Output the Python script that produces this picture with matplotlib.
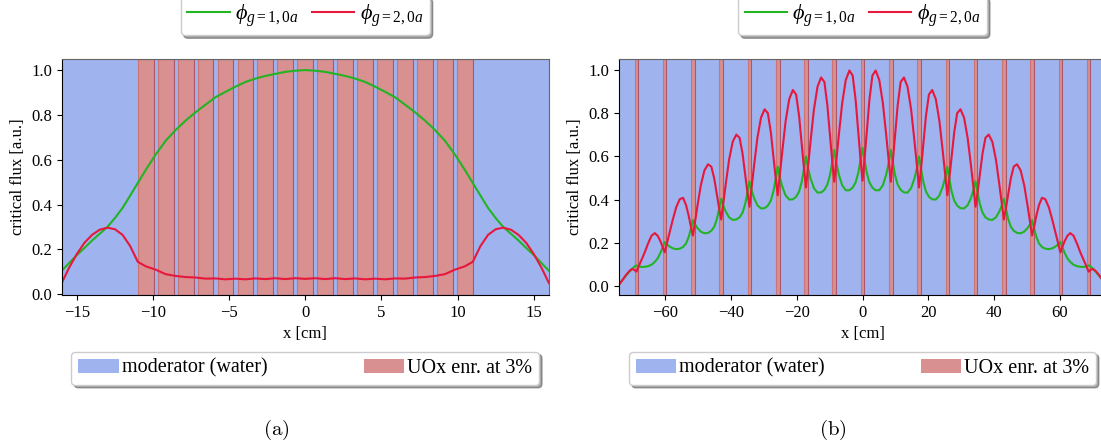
import numpy as np
import matplotlib.pyplot as plt
from matplotlib.patches import Patch
from matplotlib.lines import Line2D

plt.rcParams['font.family'] = ['Liberation Serif', 'DejaVu Serif']
plt.rcParams['mathtext.fontset'] = 'custom'
plt.rcParams['mathtext.rm'] = 'Liberation Serif'
plt.rcParams['mathtext.it'] = 'Liberation Serif:italic'

# --- (a) 17 pins, tight lattice ---
pins_a = [-10.48, -9.17, -7.86, -6.55, -5.24, -3.93, -2.62, -1.31, 0.0,
          1.31, 2.62, 3.93, 5.24, 6.55, 7.86, 9.17, 10.48]
half_w_a = 0.52
xlim_a = (-16, 16)

x_a = [-16.0, -15.5, -15.0, -14.5, -14.0, -13.5, -13.0, -12.5, -12.0, -11.5, -11.0,
       -10.48, -9.825, -9.17, -8.515, -7.86, -7.205, -6.55, -5.895, -5.24, -4.585,
       -3.93, -3.275, -2.62, -1.965, -1.31, -0.655, 0.0,
       0.655, 1.31, 1.965, 2.62, 3.275, 3.93, 4.585, 5.24, 5.895, 6.55, 7.205,
       7.86, 8.515, 9.17, 9.825, 10.48,
       11.0, 11.5, 12.0, 12.5, 13.0, 13.5, 14.0, 14.5, 15.0, 15.5, 16.0]
phi1_a = [0.105, 0.14, 0.175, 0.207, 0.24, 0.27, 0.30, 0.34, 0.385, 0.44, 0.496,
          0.554, 0.623, 0.684, 0.732, 0.774, 0.811, 0.845, 0.878, 0.902, 0.925,
          0.946, 0.961, 0.973, 0.982, 0.991, 0.996, 0.999,
          0.996, 0.991, 0.982, 0.973, 0.961, 0.946, 0.925, 0.902, 0.878, 0.845, 0.811,
          0.774, 0.732, 0.684, 0.623, 0.554,
          0.496, 0.44, 0.385, 0.34, 0.30, 0.27, 0.24, 0.207, 0.175, 0.14, 0.105]
phi2_a = [0.05, 0.12, 0.18, 0.23, 0.265, 0.288, 0.297, 0.29, 0.265, 0.215, 0.145,
          0.125, 0.11, 0.09, 0.082, 0.077, 0.075, 0.070, 0.071, 0.067, 0.070,
          0.067, 0.071, 0.068, 0.072, 0.068, 0.072, 0.069,
          0.072, 0.068, 0.072, 0.068, 0.071, 0.067, 0.070, 0.067, 0.071, 0.070, 0.075,
          0.077, 0.082, 0.09, 0.11, 0.125,
          0.145, 0.215, 0.265, 0.29, 0.297, 0.288, 0.265, 0.23, 0.18, 0.12, 0.05]

# --- (b) 17 pins, wide lattice ---
pins_b = [-68.8, -60.2, -51.6, -43.0, -34.4, -25.8, -17.2, -8.6, 0.0,
          8.6, 17.2, 25.8, 34.4, 43.0, 51.6, 60.2, 68.8]
half_w_b = 0.55
xlim_b = (-74, 74)

x_b = [-74.0, -73.0, -72.0, -71.0, -70.2, -69.5,
       -68.8, -68.2, -67.4, -66.4, -65.3, -64.2, -63.2, -62.3, -61.5, -60.8,
       -60.2, -59.6, -58.8, -57.8, -56.7, -55.6, -54.6, -53.7, -52.9, -52.2,
       -51.6, -51.0, -50.2, -49.2, -48.1, -47.0, -46.0, -45.1, -44.3, -43.6,
       -43.0, -42.4, -41.6, -40.6, -39.5, -38.4, -37.4, -36.5, -35.7, -35.0,
       -34.4, -33.8, -33.0, -32.0, -30.9, -29.8, -28.8, -27.9, -27.1, -26.4,
       -25.8, -25.2, -24.4, -23.4, -22.3, -21.2, -20.2, -19.3, -18.5, -17.8,
       -17.2, -16.6, -15.8, -14.8, -13.7, -12.6, -11.6, -10.7, -9.9, -9.2,
       -8.6, -8.0, -7.2, -6.2, -5.1, -4.0, -3.0, -2.1, -1.3, -0.6,
       0.0,
       0.6, 1.3, 2.1, 3.0, 4.0, 5.1, 6.2, 7.2, 8.0, 8.6,
       9.2, 9.9, 10.7, 11.6, 12.6, 13.7, 14.8, 15.8, 16.6, 17.2,
       17.8, 18.5, 19.3, 20.2, 21.2, 22.3, 23.4, 24.4, 25.2, 25.8,
       26.4, 27.1, 27.9, 28.8, 29.8, 30.9, 32.0, 33.0, 33.8, 34.4,
       35.0, 35.7, 36.5, 37.4, 38.4, 39.5, 40.6, 41.6, 42.4, 43.0,
       43.6, 44.3, 45.1, 46.0, 47.0, 48.1, 49.2, 50.2, 51.0, 51.6,
       52.2, 52.9, 53.7, 54.6, 55.6, 56.7, 57.8, 58.8, 59.6, 60.2,
       60.8, 61.5, 62.3, 63.2, 64.2, 65.3, 66.4, 67.4, 68.2, 68.8,
       69.5, 70.2, 71.0, 72.0, 73.0, 74.0]
phi1_b = [0.010, 0.030, 0.049, 0.066, 0.080, 0.090,
          0.097, 0.093, 0.090, 0.090, 0.093, 0.100, 0.113, 0.130, 0.155, 0.180,
          0.205, 0.195, 0.185, 0.176, 0.172, 0.174, 0.182, 0.198, 0.228, 0.268,
          0.306, 0.287, 0.269, 0.253, 0.245, 0.247, 0.257, 0.276, 0.312, 0.360,
          0.405, 0.375, 0.345, 0.319, 0.307, 0.309, 0.319, 0.341, 0.381, 0.435,
          0.485, 0.447, 0.408, 0.375, 0.360, 0.361, 0.373, 0.396, 0.439, 0.497,
          0.552, 0.506, 0.460, 0.420, 0.401, 0.402, 0.414, 0.438, 0.483, 0.543,
          0.600, 0.549, 0.498, 0.454, 0.433, 0.434, 0.446, 0.470, 0.514, 0.574,
          0.630, 0.573, 0.516, 0.467, 0.444, 0.444, 0.456, 0.480, 0.524, 0.584,
          0.640,
          0.584, 0.524, 0.480, 0.456, 0.444, 0.444, 0.467, 0.516, 0.573, 0.630,
          0.574, 0.514, 0.470, 0.446, 0.434, 0.433, 0.454, 0.498, 0.549, 0.600,
          0.543, 0.483, 0.438, 0.414, 0.402, 0.401, 0.420, 0.460, 0.506, 0.552,
          0.497, 0.439, 0.396, 0.373, 0.361, 0.360, 0.375, 0.408, 0.447, 0.485,
          0.435, 0.381, 0.341, 0.319, 0.309, 0.307, 0.319, 0.345, 0.375, 0.405,
          0.360, 0.312, 0.276, 0.257, 0.247, 0.245, 0.253, 0.269, 0.287, 0.306,
          0.268, 0.228, 0.198, 0.182, 0.174, 0.172, 0.176, 0.185, 0.195, 0.205,
          0.180, 0.155, 0.130, 0.113, 0.100, 0.093, 0.090, 0.090, 0.093, 0.097,
          0.090, 0.080, 0.066, 0.049, 0.030, 0.010]
phi2_b = [0.010, 0.030, 0.052, 0.070, 0.080, 0.077,
          0.068, 0.089, 0.118, 0.152, 0.196, 0.234, 0.246, 0.233, 0.209, 0.182,
          0.157, 0.193, 0.243, 0.304, 0.365, 0.403, 0.409, 0.376, 0.327, 0.274,
          0.235, 0.295, 0.374, 0.467, 0.536, 0.564, 0.553, 0.497, 0.422, 0.358,
          0.309, 0.380, 0.474, 0.585, 0.668, 0.701, 0.686, 0.613, 0.515, 0.432,
          0.368, 0.449, 0.558, 0.684, 0.779, 0.818, 0.800, 0.712, 0.597, 0.497,
          0.421, 0.509, 0.626, 0.763, 0.865, 0.907, 0.886, 0.787, 0.656, 0.543,
          0.457, 0.549, 0.672, 0.815, 0.922, 0.965, 0.944, 0.837, 0.696, 0.575,
          0.483, 0.576, 0.700, 0.845, 0.953, 0.997, 0.974, 0.862, 0.713, 0.585,
          0.488,
          0.585, 0.713, 0.862, 0.974, 0.997, 0.953, 0.845, 0.700, 0.576, 0.483,
          0.575, 0.696, 0.837, 0.944, 0.965, 0.922, 0.815, 0.672, 0.549, 0.457,
          0.543, 0.656, 0.787, 0.886, 0.907, 0.865, 0.763, 0.626, 0.509, 0.421,
          0.497, 0.597, 0.712, 0.800, 0.818, 0.779, 0.684, 0.558, 0.449, 0.368,
          0.432, 0.515, 0.613, 0.686, 0.701, 0.668, 0.585, 0.474, 0.380, 0.309,
          0.358, 0.422, 0.497, 0.553, 0.564, 0.536, 0.467, 0.374, 0.295, 0.235,
          0.274, 0.327, 0.376, 0.409, 0.403, 0.365, 0.304, 0.243, 0.193, 0.157,
          0.182, 0.209, 0.233, 0.246, 0.234, 0.196, 0.152, 0.118, 0.089, 0.068,
          0.077, 0.080, 0.070, 0.052, 0.030, 0.010]

water_col = 'royalblue'
fuel_col = 'firebrick'
g1_col = '#22b422'
g2_col = '#e8173c'


def draw_panel(ax, pins, hw, xlim, x, p1, p2):
    edges = [xlim[0]]
    for p in pins:
        edges += [p - hw, p + hw]
    edges.append(xlim[1])
    for i in range(0, len(edges), 2):
        ax.axvspan(edges[i], edges[i + 1], facecolor=water_col, alpha=0.5, lw=0)
    for p in pins:
        ax.axvspan(p - hw, p + hw, color=fuel_col, alpha=0.5, lw=0.8)
    ax.plot(x, p1, color=g1_col, lw=1.5)
    ax.plot(x, p2, color=g2_col, lw=1.5)
    ax.set_xlim(xlim)
    ax.set_xlabel('x [cm]', fontsize=12)
    ax.set_ylabel('critical flux [a.u.]', fontsize=12)
    ax.tick_params(labelsize=12)
    for s in ('top', 'right'):
        ax.spines[s].set_color('0.4')

    top = ax.legend([Line2D([], [], color=g1_col, lw=1.5),
                     Line2D([], [], color=g2_col, lw=1.5)],
                    [r'$\phi_{g=1,0a}$', r'$\phi_{g=2,0a}$'],
                    ncol=2, fontsize=16, loc='lower center',
                    bbox_to_anchor=(0.5, 1.1), borderaxespad=0,
                    shadow=True, handlelength=1.9, handletextpad=0.25,
                    columnspacing=0.6, borderpad=0.3)
    ax.add_artist(top)
    ax.legend([Patch(facecolor=water_col, alpha=0.5, edgecolor='none'),
               Patch(facecolor=fuel_col, alpha=0.5, edgecolor='none')],
              ['moderator (water)', 'UOx enr. at 3%'],
              ncol=2, fontsize=14.5, loc='upper left', mode='expand',
              bbox_to_anchor=(0.02, -0.24, 0.96, 0), borderaxespad=0,
              shadow=True, handlelength=2.0, handletextpad=0.15,
              borderpad=0.35)


fig = plt.figure(figsize=(11.01, 4.45), dpi=100)
ax1 = fig.add_axes([0.056, 0.337, 0.4426, 0.5303])
ax2 = fig.add_axes([0.5625, 0.337, 0.4418, 0.5303])

draw_panel(ax1, pins_a, half_w_a, xlim_a, x_a, phi1_a, phi2_a)
ax1.set_ylim(-0.003, 1.048)
draw_panel(ax2, pins_b, half_w_b, xlim_b, x_b, phi1_b, phi2_b)
ax2.set_ylim(-0.04, 1.05)

fig.text(276 / 1101, 1 - 430 / 445, r'$\mathrm{(a)}$', math_fontfamily='cm',
         fontsize=15, ha='center', va='center')
fig.text(833 / 1101, 1 - 430 / 445, r'$\mathrm{(b)}$', math_fontfamily='cm',
         fontsize=15, ha='center', va='center')

fig.savefig('out.png', dpi=100)
